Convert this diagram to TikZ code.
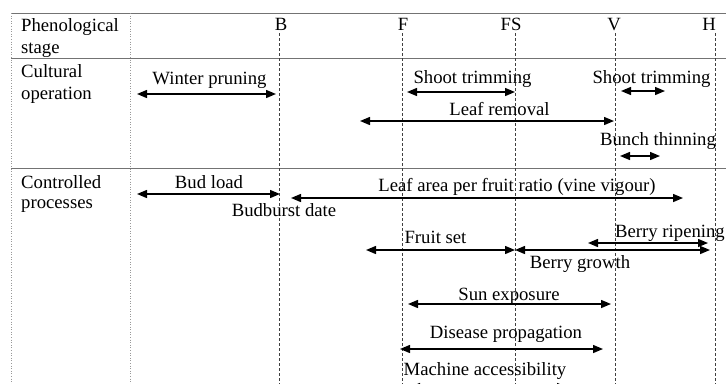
\documentclass[tikz,border=0pt]{standalone}
\usepackage{fontspec}
\setmainfont{Liberation Serif}
\usetikzlibrary{arrows.meta}
\begin{document}
\begin{tikzpicture}[x=1bp,y=-1bp,
  lbl/.style={font=\fontsize{18.7bp}{22bp}\selectfont, inner sep=0pt, anchor=base},
  rowlbl/.style={lbl, anchor=base west},
  dbl/.style={line width=1.4bp, {Triangle[length=10bp,width=8bp]}-{Triangle[length=10bp,width=8bp]}},
  hgrid/.style={draw=black!55, line width=0.7bp},
  vgrid/.style={draw=black!40, dotted, line width=0.6bp},
  stageline/.style={draw=black!75, dash pattern=on 3bp off 2bp, line width=0.6bp}]
\clip (0,0) rectangle (726,383);
\fill[white] (0,0) rectangle (726,383);
% grid
\coordinate (L1) at (11,13);  \coordinate (R1) at (726,13);
\coordinate (L2) at (11,58);  \coordinate (R2) at (726,58);
\coordinate (L3) at (11,168); \coordinate (R3) at (726,168);
\draw[hgrid] (L1) -- (R1);
\draw[hgrid] (L2) -- (R2);
\draw[hgrid] (L3) -- (R3);
\coordinate (V0t) at (11,13);  \coordinate (V0b) at (11,390);
\coordinate (V1t) at (130,13); \coordinate (V1b) at (130,390);
\draw[vgrid] (V0t) -- (V0b);
\draw[vgrid] (V1t) -- (V1b);
% row labels
\node[rowlbl] (ph1) at (21,31) {Phenological};
\node[rowlbl] (ph2) at (21,53) {stage};
\node[rowlbl] (cu1) at (21,77) {Cultural};
\node[rowlbl] (cu2) at (21,99) {operation};
\node[rowlbl] (co1) at (21,188) {Controlled};
\node[rowlbl] (co2) at (21,208) {processes};
% stages
\node[lbl] (B) at (281,30) {B};
\node[lbl] (F) at (403,30) {F};
\node[lbl] (FS) at (511,30) {FS};
\node[lbl] (V) at (614,30) {V};
\node[lbl] (H) at (709,30) {H};
\coordinate (Bt) at (279,33);  \coordinate (Bb) at (279,390);
\coordinate (Ft) at (402,33);  \coordinate (Fb) at (402,390);
\coordinate (FSt) at (515,33); \coordinate (FSb) at (515,390);
\coordinate (Vt) at (615,33);  \coordinate (Vb) at (615,390);
\coordinate (Ht) at (715,33);  \coordinate (Hb) at (715,390);
\draw[stageline] (Bt) -- (Bb);
\draw[stageline] (Ft) -- (Fb);
\draw[stageline] (FSt) -- (FSb);
\draw[stageline] (Vt) -- (Vb);
\draw[stageline] (Ht) -- (Hb);
% cultural operations
\node[lbl] (wp) at (209.5,84) {Winter pruning};
\coordinate (wpa) at (137,94); \coordinate (wpb) at (276,94);
\draw[dbl] (wpa) -- (wpb);
\node[lbl] (st1) at (472.5,83) {Shoot trimming};
\coordinate (st1a) at (407,92); \coordinate (st1b) at (515,92);
\draw[dbl] (st1a) -- (st1b);
\node[lbl] (st2) at (651.5,83) {Shoot trimming};
\coordinate (st2a) at (621,91); \coordinate (st2b) at (665,91);
\draw[dbl] (st2a) -- (st2b);
\node[lbl] (lr) at (499.5,115) {Leaf removal};
\coordinate (lra) at (360,121); \coordinate (lrb) at (614,121);
\draw[dbl] (lra) -- (lrb);
\node[lbl] (bt) at (658,145) {Bunch thinning};
\coordinate (bta) at (620,156); \coordinate (btb) at (660,156);
\draw[dbl] (bta) -- (btb);
% controlled processes
\node[lbl] (bl) at (209,188) {Bud load};
\coordinate (bla) at (137,194); \coordinate (blb) at (280,194);
\draw[dbl] (bla) -- (blb);
\node[lbl] (la) at (517,191) {Leaf area per fruit ratio (vine vigour)};
\coordinate (laa) at (291,198); \coordinate (lab) at (683,198);
\draw[dbl] (laa) -- (lab);
\node[lbl] (bd) at (284,216) {Budburst date};
\node[lbl] (fs) at (435.5,243) {Fruit set};
\coordinate (fsa) at (366,250); \coordinate (fsb) at (515,250);
\draw[dbl] (fsa) -- (fsb);
\node[lbl] (bg) at (580,268) {Berry growth};
\coordinate (bga) at (515,250); \coordinate (bgb) at (710,250);
\draw[dbl] (bga) -- (bgb);
\node[lbl] (br) at (670,237) {Berry ripening};
\coordinate (bra) at (588,243); \coordinate (brb) at (708,243);
\draw[dbl] (bra) -- (brb);
\node[lbl] (se) at (509,300) {Sun exposure};
\coordinate (sea) at (408,304); \coordinate (seb) at (611,304);
\draw[dbl] (sea) -- (seb);
\node[lbl] (dp) at (506,338) {Disease propagation};
\coordinate (dpa) at (400,349); \coordinate (dpb) at (603,349);
\draw[dbl] (dpa) -- (dpb);
\node[lbl] (ma) at (485,375) {Machine accessibility};
\coordinate (maa) at (410,387); \coordinate (mab) at (567,387);
\draw[dbl] (maa) -- (mab);
\end{tikzpicture}
\end{document}
